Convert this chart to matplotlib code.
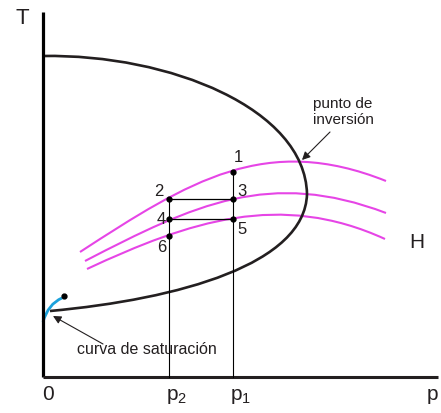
import matplotlib
matplotlib.use("Agg")
import matplotlib.pyplot as plt
from matplotlib.path import Path
from matplotlib.patches import PathPatch

plt.rcParams['font.family'] = ['Liberation Sans', 'DejaVu Sans']
plt.rcParams['mathtext.fontset'] = 'custom'
plt.rcParams['mathtext.rm'] = 'Liberation Sans'

# curva de inversion (dos tramos cubicos de Bezier), coordenadas (p, T)
inv_p = [0, 127, 262, 264, 262, 137, 7]
inv_T = [321, 323, 268, 183, 113, 78, 66]

# isentalpicas (Bezier cubicas)
h1_p = [37, 147, 223, 343]
h1_T = [125, 196.5, 244, 196]
h2_p = [42, 152, 227, 343]
h2_T = [116, 173, 208, 164]
h3_p = [44, 147, 237, 342]
h3_T = [108, 156, 186, 138]

# curva de saturacion (Bezier cuadratica)
sat_p = [0, 5, 19]
sat_T = [55, 73, 79]
crit_p, crit_T = 21, 81

# presiones y estados 1..6
p1, p2 = 190, 126
pts_lbl = ['1', '2', '3', '4', '5', '6']
pts_p = [p1, p2, p1, p2, p1, p2]
pts_T = [205, 178, 178, 158, 158, 141]

fig = plt.figure(figsize=(4.41, 4.14), dpi=100)
ax = fig.add_axes([0, 0, 1, 1])
ax.set_xlim(-43, 398)
ax.set_ylim(-36, 378)
ax.axis('off')

dark = '#231f20'
magenta = '#e645e6'


def bezier(ps, Ts, **kw):
    verts = list(zip(ps, Ts))
    if len(verts) == 3:
        codes = [Path.MOVETO, Path.CURVE3, Path.CURVE3]
    else:
        codes = [Path.MOVETO] + [Path.CURVE4] * (len(verts) - 1)
    ax.add_patch(PathPatch(Path(verts, codes), fill=False, capstyle='butt', **kw))


# ejes
ax.plot([0, 0], [0, 365], color='black', lw=2.3, solid_capstyle='butt')
ax.plot([0, 395], [0, 0], color=dark, lw=2.2, solid_capstyle='butt')

# lineas de construccion
ax.plot([p2, p1], [pts_T[1], pts_T[2]], color='black', lw=0.9)
ax.plot([p2, p1], [pts_T[3], pts_T[4]], color='black', lw=0.9)
ax.plot([p2, p2], [0, pts_T[1]], color='black', lw=0.8)
ax.plot([p1, p1], [0, pts_T[0]], color='black', lw=0.8)

for hp, hT in [(h1_p, h1_T), (h2_p, h2_T), (h3_p, h3_T)]:
    bezier(hp, hT, color=magenta, lw=1.5)

bezier(inv_p, inv_T, color=dark, lw=1.9)
bezier(sat_p, sat_T, color='#1ba1db', lw=2.0)
ax.plot(crit_p, crit_T, 'o', color='black', ms=3.5)

ax.plot(pts_p, pts_T, 'o', color='black', ms=3.5, zorder=5)

# etiquetas de los estados
lbl_off = {'1': (5, 15), '2': (-10, 8), '3': (9, -14 + 22), '4': (-8, 0),
           '5': (9, -10), '6': (-7, -11)}
for s, x, y in zip(pts_lbl, pts_p, pts_T):
    dx, dy = lbl_off[s]
    ax.text(x + dx, y + dy, s, fontsize=12, ha='center', va='center', color=dark)

ax.text(-21, 360, 'T', fontsize=16, ha='center', va='center', color=dark)
ax.text(374, 135, 'H', fontsize=15, ha='center', va='center', color=dark)
ax.text(5, -17, '0', fontsize=15, ha='center', va='center', color=dark)
ax.text(p2 + 8, -19, r'p$_\mathregular{2}$', fontsize=15, ha='center', va='center', color=dark)
ax.text(p1 + 8, -19, r'p$_\mathregular{1}$', fontsize=15, ha='center', va='center', color=dark)
ax.text(389, -17, 'p', fontsize=15, ha='center', va='center', color=dark)

ax.text(300, 266, 'punto de\ninversión', fontsize=11, ha='center', va='center',
        linespacing=1.2, color=dark)
ax.annotate('', xy=(259, 217), xytext=(287, 245),
            arrowprops=dict(arrowstyle='-|>', color=dark, lw=0.8, mutation_scale=12,
                            shrinkA=0, shrinkB=0))

ax.text(34, 28, 'curva de saturación', fontsize=11.5, ha='left', va='center', color=dark)
ax.annotate('', xy=(10, 61), xytext=(60, 33),
            arrowprops=dict(arrowstyle='-|>', color=dark, lw=0.8, mutation_scale=12,
                            shrinkA=0, shrinkB=0))

fig.savefig('out.png', dpi=100)
